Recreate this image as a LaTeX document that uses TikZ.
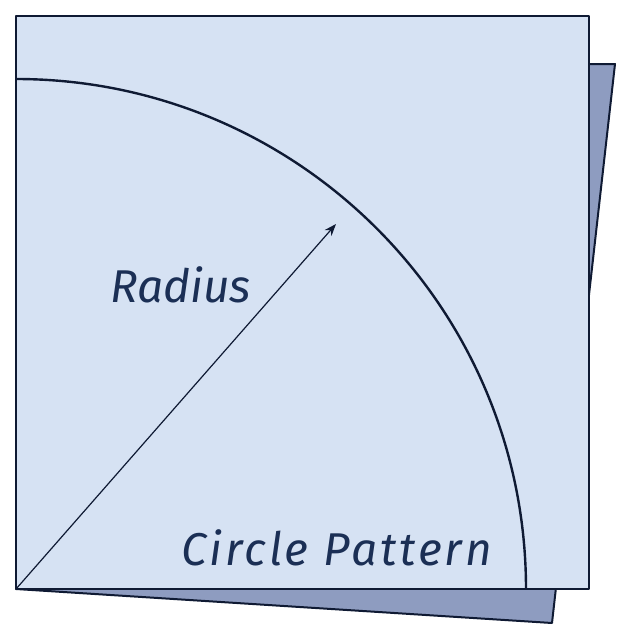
\documentclass[tikz,border=0pt]{standalone}
\usepackage{fontspec}
\setmainfont{Fira Sans}
\usetikzlibrary{arrows.meta}
\definecolor{frontfill}{HTML}{D6E2F3}
\definecolor{backfill}{HTML}{8E9CC0}
\definecolor{edge}{HTML}{0F1A33}
\definecolor{textc}{HTML}{1B2F55}
\tikzset{
  sheet/.style={draw=edge, line width=2pt, line join=round},
  lbl/.style={text=textc, font=\fontsize{46}{50}\selectfont\itshape, inner sep=0pt, anchor=base west},
}
\begin{document}
\begin{tikzpicture}[x=1pt,y=-1pt]
\useasboundingbox (0,0) rectangle (632,641);
\fill[white] (0,0) rectangle (632,641);
% back sheet
\draw[sheet, fill=backfill] (16,589) -- (552,623) -- (615,64) -- (580,64) -- cycle;
% front sheet
\draw[sheet, fill=frontfill] (16,16) rectangle (589,589);
\coordinate (o) at (16,589);
\coordinate (tip) at (336,224);
% arc
\draw[edge, line width=2.4pt] (16,79) arc[start angle=-90, end angle=0, radius=510];
% radius arrow
\draw[edge, line width=1.2pt, -{Stealth[length=12pt,width=9pt]}] (o) -- (tip);
\node[lbl] (r) at (110,302) {Radius};
\node[lbl] (c) at (181,565) {\addfontfeature{LetterSpace=6.3}Circle Pattern};
\end{tikzpicture}
\end{document}
